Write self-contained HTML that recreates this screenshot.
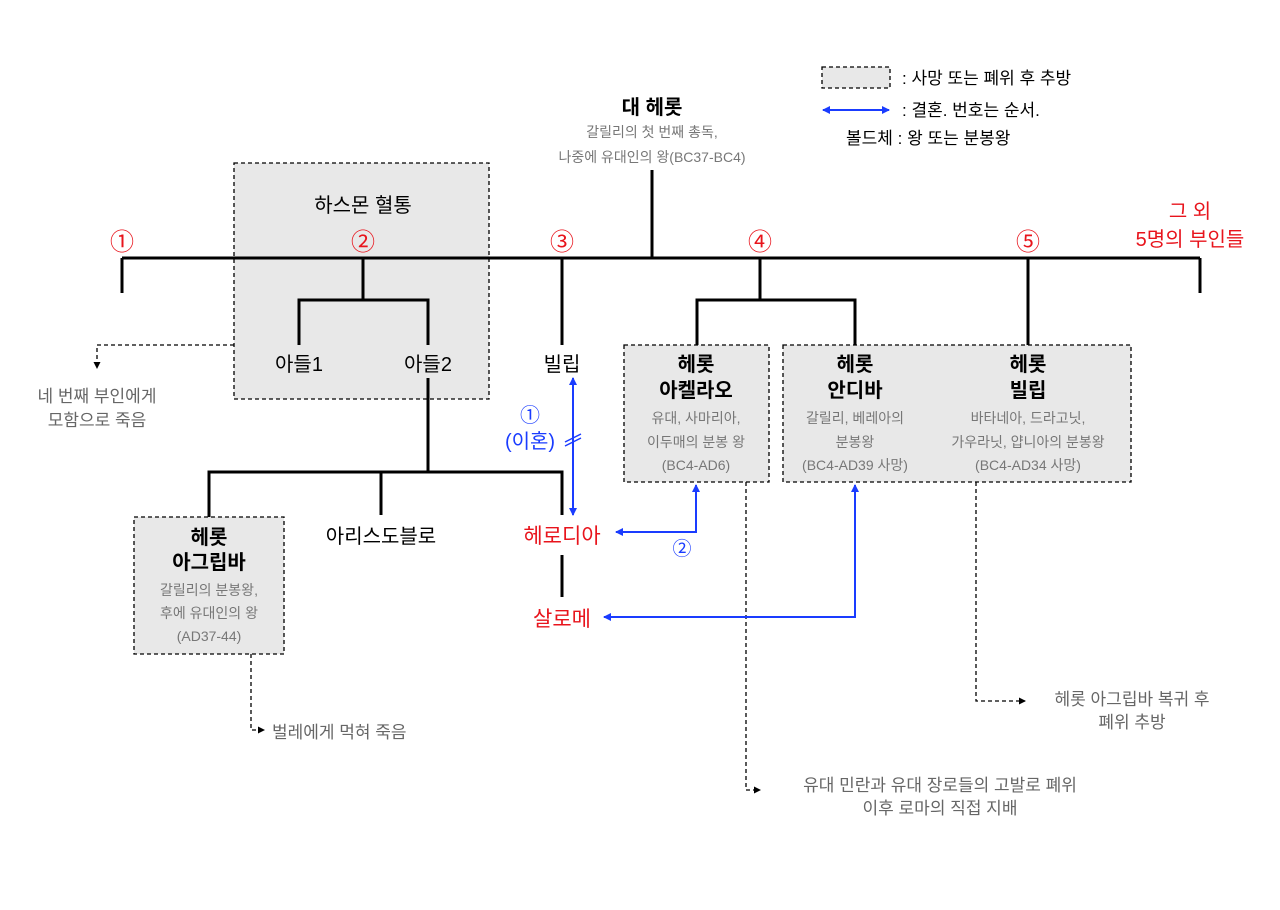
<!DOCTYPE html>
<html><head><meta charset="utf-8"><style>
html,body{margin:0;padding:0;background:#fff}
svg text{font-family:"Liberation Sans","Noto Sans CJK KR","NanumGothic",sans-serif}
</style></head><body>
<svg width="1280" height="905" viewBox="0 0 1280 905" xmlns="http://www.w3.org/2000/svg">
<defs>
<marker id="ab" markerWidth="8" markerHeight="8" refX="7" refY="4" orient="auto-start-reverse" markerUnits="userSpaceOnUse"><path d="M0,0 L8,4 L0,8 z" fill="#1a3cff"/></marker>
<marker id="ak" markerWidth="7" markerHeight="7" refX="6" refY="3.5" orient="auto" markerUnits="userSpaceOnUse"><path d="M0,0 L7,3.5 L0,7 z" fill="#000"/></marker>
</defs>
<!-- boxes -->
<g fill="#e8e8e8" stroke="#000" stroke-width="1.3" stroke-dasharray="4,3">
<rect x="234" y="163" width="255" height="236"/>
<rect x="134" y="517" width="150" height="137"/>
<rect x="624" y="345" width="145" height="137"/>
<rect x="783" y="345" width="348" height="137"/>
<rect x="822" y="67" width="68" height="21"/>
</g>
<!-- black lines -->
<g stroke="#000" stroke-width="3" fill="none">
<path d="M122,258 H1200"/>
<path d="M652,170 V258"/>
<path d="M122,258 V293 M1200,258 V293 M562,258 V345 M1028,258 V345"/>
<path d="M363,258 V300 M299,345 V300 H428 V345"/>
<path d="M760,258 V300 M697,345 V300 H855 V345"/>
<path d="M428,378 V472 M209,517 V472 H562 V515 M381,472 V515"/>
<path d="M562,555 V597"/>
</g>
<!-- dashed connectors -->
<g stroke="#000" stroke-width="1.3" stroke-dasharray="4,3" fill="none">
<path d="M234,345 H97 V368" marker-end="url(#ak)"/>
<path d="M251,654 V730 H264" marker-end="url(#ak)"/>
<path d="M746,482 V790 H760" marker-end="url(#ak)"/>
<path d="M976,482 V701 H1025" marker-end="url(#ak)"/>
</g>
<!-- blue -->
<g stroke="#1a3cff" stroke-width="2" fill="none">
<path d="M573,378 V515" marker-start="url(#ab)" marker-end="url(#ab)"/>
<path d="M565,442 L581,434 M565,446 L581,438" stroke-width="1.5"/>
<path d="M696,485 V532 H616" marker-start="url(#ab)" marker-end="url(#ab)"/>
<path d="M855,485 V617 H604" marker-start="url(#ab)" marker-end="url(#ab)"/>
<path d="M823,110 H889" marker-start="url(#ab)" marker-end="url(#ab)"/>
</g>
<!-- circled numbers -->
<g fill="#e8141c" font-size="24" text-anchor="middle">
<text x="122" y="250">①</text><text x="363" y="250">②</text><text x="562" y="250">③</text><text x="760" y="250">④</text><text x="1028" y="250">⑤</text>
<text x="1190" y="218" font-size="20">그 외</text><text x="1190" y="246" font-size="20">5명의 부인들</text>
<text x="562" y="543" font-size="21">헤로디아</text>
<text x="562" y="626" font-size="21">살로메</text>
</g>
<g fill="#1a3cff" text-anchor="middle" font-size="20">
<text x="530" y="422">①</text><text x="530" y="448">(이혼)</text>
<text x="682" y="555" font-size="19">②</text>
</g>
<!-- black labels -->
<g fill="#000" text-anchor="middle" font-size="20">
<text x="363" y="212">하스몬 혈통</text>
<text x="299" y="371">아들1</text><text x="428" y="371">아들2</text>
<text x="562" y="371">빌립</text>
<text x="381" y="543">아리스도블로</text>
</g>
<g fill="#000" text-anchor="middle" font-size="20" font-weight="bold">
<text x="652" y="114">대 헤롯</text>
<text x="209" y="544">헤롯</text><text x="209" y="569">아그립바</text>
<text x="696" y="371">헤롯</text><text x="696" y="397">아켈라오</text>
<text x="855" y="371">헤롯</text><text x="855" y="397">안디바</text>
<text x="1028" y="371">헤롯</text><text x="1028" y="397">빌립</text>
</g>
<!-- gray -->
<g fill="#777" text-anchor="middle" font-size="14">
<text x="652" y="137">갈릴리의 첫 번째 총독,</text>
<text x="652" y="162">나중에 유대인의 왕(BC37-BC4)</text>
<text x="209" y="595">갈릴리의 분봉왕,</text><text x="209" y="618">후에 유대인의 왕</text><text x="209" y="641">(AD37-44)</text>
<text x="696" y="423">유대, 사마리아,</text><text x="696" y="447">이두매의 분봉 왕</text><text x="696" y="470">(BC4-AD6)</text>
<text x="855" y="423">갈릴리, 베레아의</text><text x="855" y="447">분봉왕</text><text x="855" y="470">(BC4-AD39 사망)</text>
<text x="1028" y="423">바타네아, 드라고닛,</text><text x="1028" y="447">가우라닛, 얍니아의 분봉왕</text><text x="1028" y="470">(BC4-AD34 사망)</text>
</g>
<g fill="#666" text-anchor="middle" font-size="17">
<text x="97" y="402">네 번째 부인에게</text><text x="97" y="426">모함으로 죽음</text>
<text x="940" y="791">유대 민란과 유대 장로들의 고발로 폐위</text><text x="940" y="814">이후 로마의 직접 지배</text>
<text x="1132" y="705">헤롯 아그립바 복귀 후</text><text x="1132" y="728">폐위 추방</text>
</g>
<text x="272" y="738" fill="#666" font-size="17">벌레에게 먹혀 죽음</text>
<g fill="#000" font-size="17">
<text x="902" y="84">: 사망 또는 폐위 후 추방</text>
<text x="902" y="116">: 결혼. 번호는 순서.</text>
<text x="846" y="144">볼드체 : 왕 또는 분봉왕</text>
</g>
</svg>
</body></html>
